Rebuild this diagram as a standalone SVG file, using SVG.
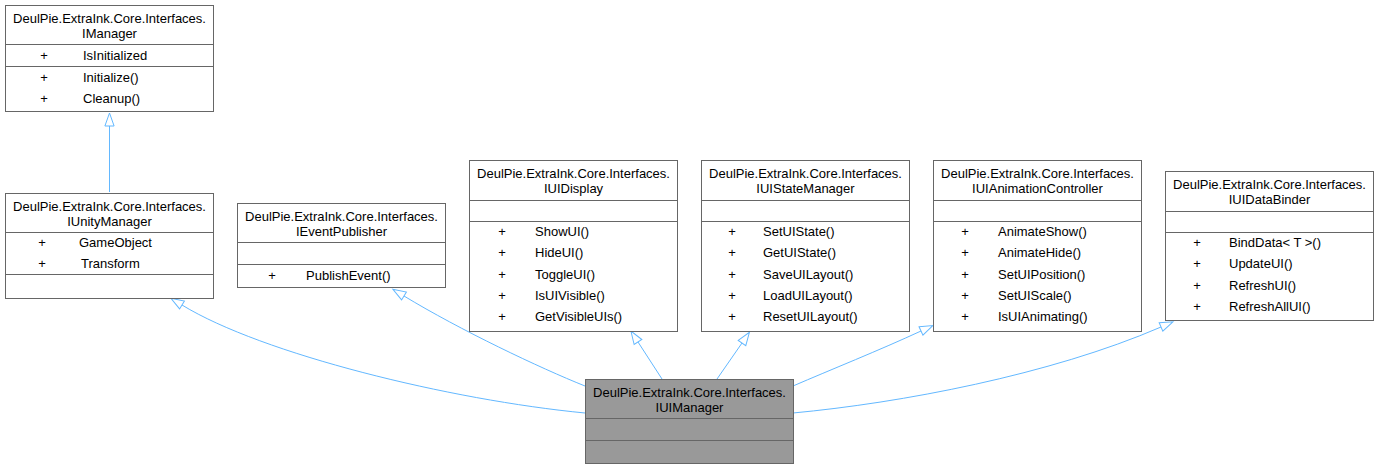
<svg xmlns="http://www.w3.org/2000/svg" width="1378" height="469" viewBox="0 0 1378 469">
<style>
.box{fill:#ffffff;stroke:#666666;stroke-width:1}
.main{fill:#999999;stroke:#666666;stroke-width:1}
.sep{stroke:#666666;stroke-width:1}
text{font-family:"Liberation Sans",Arial,Helvetica,sans-serif;font-size:13px;fill:#000000}
.c{text-anchor:middle}
.e{fill:none;stroke:#63b8ff;stroke-width:1}
</style>
<defs>
<marker id="tri" markerUnits="userSpaceOnUse" viewBox="-1 -1 16 12" refX="0" refY="5" markerWidth="16" markerHeight="12" orient="auto">
<path d="M0,0.4 L13,5 L0,9.6 Z" fill="#ffffff" stroke="#63b8ff" stroke-width="1"/>
</marker>
</defs>
<rect width="1378" height="469" fill="#ffffff"/>
<g id="connectors">
<path class="e" marker-end="url(#tri)" d="M109.5,192 L109.5,126"/>
<path class="e" marker-end="url(#tri)" d="M585,413 C450,400 262,354 182,305"/>
<path class="e" marker-end="url(#tri)" d="M585,386 C540,368 460,330 404,296"/>
<path class="e" marker-end="url(#tri)" d="M662,379 L638,342"/>
<path class="e" marker-end="url(#tri)" d="M717,379 L742,343"/>
<path class="e" marker-end="url(#tri)" d="M793,386 C830,370 880,350 921,331"/>
<path class="e" marker-end="url(#tri)" d="M793,413 C900,403 1050,375 1161,327"/>
</g>
<g id="IManager">
<rect class="box" x="5.5" y="5.5" width="208" height="106"/>
<line class="sep" x1="5.5" y1="44.5" x2="213.5" y2="44.5"/>
<line class="sep" x1="5.5" y1="66.5" x2="213.5" y2="66.5"/>
<text class="c" x="109.5" y="23">DeulPie.ExtraInk.Core.Interfaces.</text>
<text class="c" x="109.5" y="38">IManager</text>
<text class="c" x="44" y="60">+</text><text x="83" y="60">IsInitialized</text>
<text class="c" x="44" y="82">+</text><text x="83" y="82">Initialize()</text>
<text class="c" x="44" y="103">+</text><text x="83" y="103">Cleanup()</text>
</g>
<g id="IUnityManager">
<rect class="box" x="5.5" y="193.5" width="208" height="105"/>
<line class="sep" x1="5.5" y1="232.5" x2="213.5" y2="232.5"/>
<line class="sep" x1="5.5" y1="274.5" x2="213.5" y2="274.5"/>
<text class="c" x="109.5" y="211">DeulPie.ExtraInk.Core.Interfaces.</text>
<text class="c" x="109.5" y="226">IUnityManager</text>
<text class="c" x="42" y="247">+</text><text x="79" y="247">GameObject</text>
<text class="c" x="42" y="268">+</text><text x="81" y="268">Transform</text>
</g>
<g id="IEventPublisher">
<rect class="box" x="237.5" y="203.5" width="208" height="84"/>
<line class="sep" x1="237.5" y1="242.5" x2="445.5" y2="242.5"/>
<line class="sep" x1="237.5" y1="264.5" x2="445.5" y2="264.5"/>
<text class="c" x="341.5" y="221">DeulPie.ExtraInk.Core.Interfaces.</text>
<text class="c" x="341.5" y="236">IEventPublisher</text>
<text class="c" x="272" y="280">+</text><text x="306" y="280">PublishEvent()</text>
</g>
<g id="IUIDisplay">
<rect class="box" x="469.5" y="160.5" width="208" height="171"/>
<line class="sep" x1="469.5" y1="200.5" x2="677.5" y2="200.5"/>
<line class="sep" x1="469.5" y1="221.5" x2="677.5" y2="221.5"/>
<text class="c" x="573.5" y="178">DeulPie.ExtraInk.Core.Interfaces.</text>
<text class="c" x="573.5" y="193">IUIDisplay</text>
<text class="c" x="502" y="236">+</text><text x="535" y="236">ShowUI()</text>
<text class="c" x="502" y="257">+</text><text x="535" y="257">HideUI()</text>
<text class="c" x="502" y="279">+</text><text x="535" y="279">ToggleUI()</text>
<text class="c" x="502" y="300">+</text><text x="535" y="300">IsUIVisible()</text>
<text class="c" x="502" y="321">+</text><text x="535" y="321">GetVisibleUIs()</text>
</g>
<g id="IUIStateManager">
<rect class="box" x="701.5" y="160.5" width="208" height="171"/>
<line class="sep" x1="701.5" y1="200.5" x2="909.5" y2="200.5"/>
<line class="sep" x1="701.5" y1="221.5" x2="909.5" y2="221.5"/>
<text class="c" x="805.5" y="178">DeulPie.ExtraInk.Core.Interfaces.</text>
<text class="c" x="805.5" y="193">IUIStateManager</text>
<text class="c" x="732" y="236">+</text><text x="763" y="236">SetUIState()</text>
<text class="c" x="732" y="257">+</text><text x="763" y="257">GetUIState()</text>
<text class="c" x="732" y="279">+</text><text x="763" y="279">SaveUILayout()</text>
<text class="c" x="732" y="300">+</text><text x="763" y="300">LoadUILayout()</text>
<text class="c" x="732" y="321">+</text><text x="763" y="321">ResetUILayout()</text>
</g>
<g id="IUIAnimationController">
<rect class="box" x="933.5" y="160.5" width="208" height="171"/>
<line class="sep" x1="933.5" y1="200.5" x2="1141.5" y2="200.5"/>
<line class="sep" x1="933.5" y1="221.5" x2="1141.5" y2="221.5"/>
<text class="c" x="1037.5" y="178">DeulPie.ExtraInk.Core.Interfaces.</text>
<text class="c" x="1037.5" y="193">IUIAnimationController</text>
<text class="c" x="965" y="236">+</text><text x="998" y="236">AnimateShow()</text>
<text class="c" x="965" y="257">+</text><text x="998" y="257">AnimateHide()</text>
<text class="c" x="965" y="279">+</text><text x="998" y="279">SetUIPosition()</text>
<text class="c" x="965" y="300">+</text><text x="998" y="300">SetUIScale()</text>
<text class="c" x="965" y="321">+</text><text x="998" y="321">IsUIAnimating()</text>
</g>
<g id="IUIDataBinder">
<rect class="box" x="1165.5" y="171.5" width="208" height="149"/>
<line class="sep" x1="1165.5" y1="211.5" x2="1373.5" y2="211.5"/>
<line class="sep" x1="1165.5" y1="232.5" x2="1373.5" y2="232.5"/>
<text class="c" x="1269.5" y="189">DeulPie.ExtraInk.Core.Interfaces.</text>
<text class="c" x="1269.5" y="204">IUIDataBinder</text>
<text class="c" x="1197" y="247">+</text><text x="1229" y="247">BindData&lt; T &gt;()</text>
<text class="c" x="1197" y="268">+</text><text x="1229" y="268">UpdateUI()</text>
<text class="c" x="1197" y="290">+</text><text x="1229" y="290">RefreshUI()</text>
<text class="c" x="1197" y="311">+</text><text x="1229" y="311">RefreshAllUI()</text>
</g>
<g id="IUIManager">
<rect class="main" x="585.5" y="379.5" width="208" height="84"/>
<line class="sep" x1="585.5" y1="418.5" x2="793.5" y2="418.5"/>
<line class="sep" x1="585.5" y1="440.5" x2="793.5" y2="440.5"/>
<text class="c" x="689.5" y="397">DeulPie.ExtraInk.Core.Interfaces.</text>
<text class="c" x="689.5" y="412">IUIManager</text>
</g>
</svg>
